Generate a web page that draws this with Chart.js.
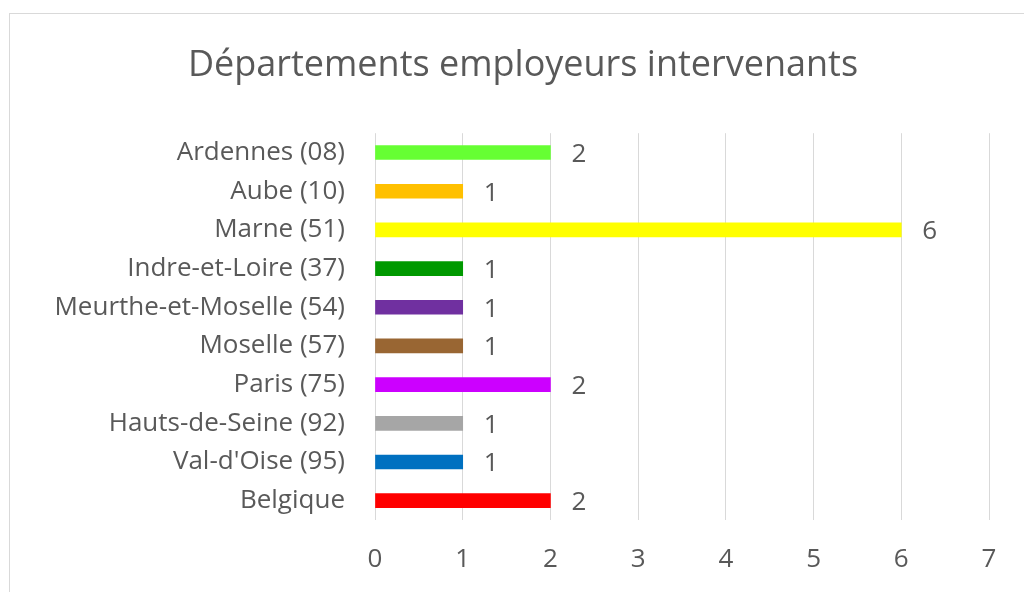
<!DOCTYPE html>
<html lang="fr">
<head>
    <meta charset="UTF-8">
    <title>Départements employeurs intervenants</title>
    <script src="https://cdn.jsdelivr.net/npm/chart.js"></script>
    <style>
        body { margin: 0; background: #fff; overflow: hidden; }
        #frame { position: absolute; left: 9px; top: 13px; width: 1030px; height: 600px; border: 1px solid #d9d9d9; }
        #wrap { position: absolute; left: 0; top: 0; width: 1024px; height: 592px; }
    </style>
</head>
<body>
    <div id="frame"></div>
    <div id="wrap"><canvas id="chart" width="1024" height="592"></canvas></div>

    <script>
        const departements = ['Ardennes (08)', 'Aube (10)', 'Marne (51)', 'Indre-et-Loire (37)',
            'Meurthe-et-Moselle (54)', 'Moselle (57)', 'Paris (75)', 'Hauts-de-Seine (92)',
            "Val-d'Oise (95)", 'Belgique'];
        const nombres = [2, 1, 6, 1, 1, 1, 2, 1, 1, 2];
        const couleurs = ['#66FF33', '#FFC000', '#FFFF00', '#009900', '#7030A0',
            '#996633', '#CC00FF', '#A6A6A6', '#0070C0', '#FF0000'];
        const axeMax = 7;

        const fontFamily = '"Open Sans", sans-serif';
        const gris = '#595959';

        // valeurs au bout des barres
        const valeursPlugin = {
            id: 'valeurs',
            afterDatasetsDraw(chart) {
                const ctx = chart.ctx;
                ctx.save();
                ctx.font = '26px ' + fontFamily;
                ctx.fillStyle = gris;
                ctx.textAlign = 'left';
                ctx.textBaseline = 'middle';
                chart.getDatasetMeta(0).data.forEach((bar, i) => {
                    ctx.fillText(String(nombres[i]), bar.x + 21, bar.y + 2);
                });
                ctx.restore();
            }
        };

        new Chart(document.getElementById('chart'), {
            type: 'bar',
            data: {
                labels: departements,
                datasets: [{
                    data: nombres,
                    backgroundColor: couleurs,
                    barThickness: 14
                }]
            },
            plugins: [valeursPlugin],
            options: {
                indexAxis: 'y',
                responsive: false,
                animation: false,
                layout: { padding: { left: 57, right: 35, top: 0, bottom: 0 } },
                plugins: {
                    legend: { display: false },
                    tooltip: { enabled: false },
                    title: {
                        display: true,
                        text: 'Départements employeurs intervenants',
                        color: gris,
                        font: { family: fontFamily, size: 36, weight: 'normal', lineHeight: 1.2 },
                        padding: { top: 44, bottom: 46 }
                    }
                },
                scales: {
                    x: {
                        min: 0,
                        max: axeMax,
                        ticks: { stepSize: 1, color: gris, padding: 24, font: { family: fontFamily, size: 26 } },
                        grid: { color: '#d9d9d9', drawTicks: false },
                        border: { display: false },
                        afterFit(scale) { scale.height = 72; }
                    },
                    y: {
                        ticks: { color: gris, padding: 30, font: { family: fontFamily, size: 26 } },
                        grid: { display: false, drawTicks: false },
                        border: { display: false },
                        afterFit(scale) { scale.width = 318; }
                    }
                }
            }
        });
    </script>
</body>
</html>
